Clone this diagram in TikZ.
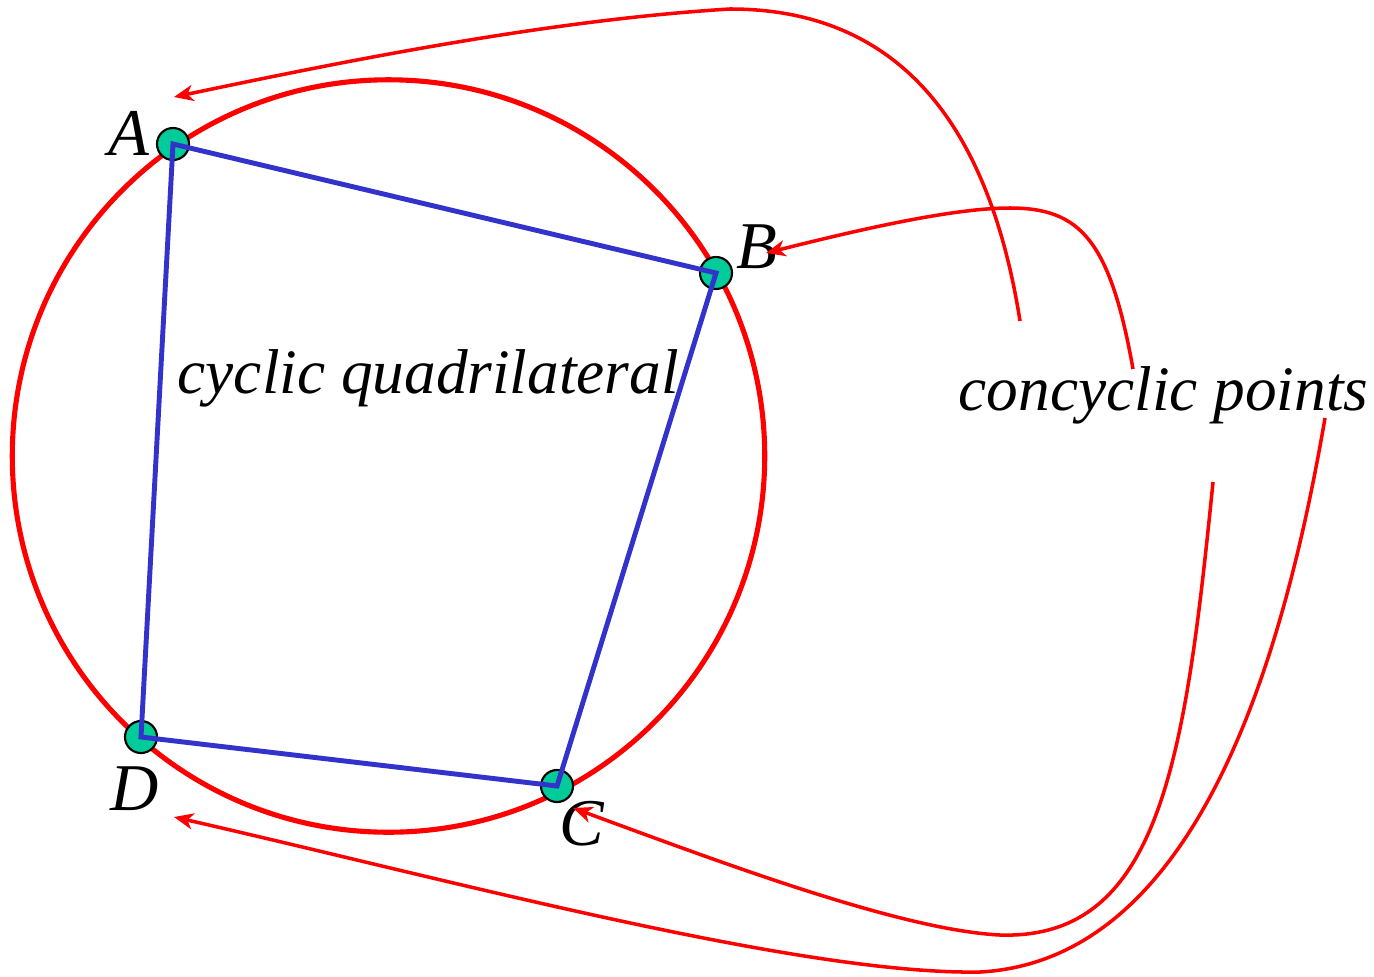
\documentclass[tikz,border=0pt]{standalone}
\usepackage{fontspec}
\setmainfont{Liberation Serif}
\usetikzlibrary{arrows.meta, positioning}
\definecolor{dotgreen}{RGB}{0,204,153}
\definecolor{quadblue}{RGB}{51,51,204}

\begin{document}
\begin{tikzpicture}[
    x=0.01cm, y=-0.01cm,
    ring/.style={draw=red, line width=1.45pt},
    quad/.style={draw=quadblue, line width=1.4pt, line join=miter},
    vtx/.style={circle, draw, fill=dotgreen, line width=0.6pt, minimum size=0.32cm, inner sep=0pt},
    vlbl/.style={font=\fontsize{19}{22}\selectfont\itshape, inner sep=0pt},
    txt/.style={font=\fontsize{18}{22}\selectfont\itshape, inner sep=0pt, anchor=base west},
    arr/.style={draw=red, line width=1pt, -{Stealth[length=5.5pt, width=4.6pt, inset=1.6pt]}}
  ]

    %% ── canvas (pixel grid, y down) ──
    \useasboundingbox (0,0) rectangle (1374,976);

    %% ── circle ──
    \draw[ring] (388.5,456) circle (3.76cm);

    %% ── vertices ──
    \node[vtx] (A) at (173,144) {};
    \node[vtx] (B) at (716,273) {};
    \node[vtx] (C) at (557,786) {};
    \node[vtx] (D) at (141,737) {};

    %% ── quadrilateral ──
    \draw[quad] (A.center) -- (B.center) -- (C.center) -- (D.center) -- cycle;

    %% ── labels ──
    \node[vlbl] (lA) at (129,133) {A};
    \node[vlbl] (lB) at (757,247) {B};
    \node[vlbl] (lC) at (582,824) {C};
    \node[vlbl] (lD) at (135,789) {D};
    \node[txt] (cq) at (177,393) {cyclic quadrilateral};
    \node[txt] (cp) at (958,410) {concyclic points};

    %% ═══════ ARROWS ═══════
    \coordinate (sA) at (1020,321);
    \coordinate (sB) at (1133,369);
    \coordinate (sC) at (1213,482);
    \coordinate (sD) at (1325,418);
    \coordinate (tA) at (174,97);
    \coordinate (tB) at (766,253);
    \coordinate (tC) at (573,808);
    \coordinate (tD) at (174,817);

    \draw[arr] (sA) .. controls (985,100) and (880,9) .. (730,9)
      .. controls (550,20) and (350,60) .. (tA);
    \draw[arr] (sB) .. controls (1110,240) and (1080,208) .. (1010,208)
      .. controls (950,208) and (850,232) .. (tB);
    \draw[arr] (sC) .. controls (1185,760) and (1160,940) .. (1000,935)
      .. controls (900,930) and (720,862) .. (tC);
    \draw[arr] (sD) .. controls (1285,650) and (1200,960) .. (980,972)
      .. controls (800,975) and (450,880) .. (tD);

\end{tikzpicture}
\end{document}
